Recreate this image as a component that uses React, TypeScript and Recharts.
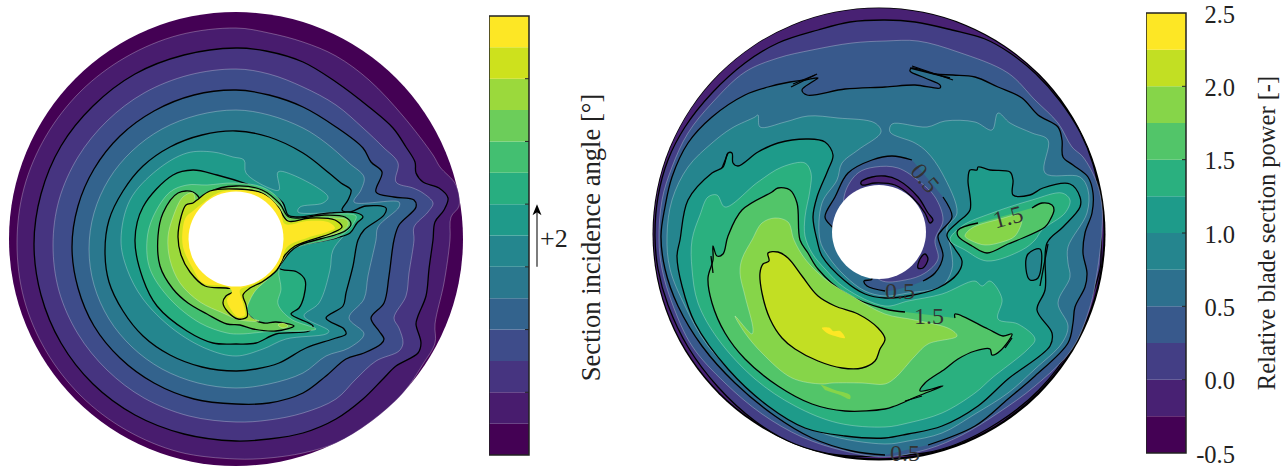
import React from 'react';
import { ScatterChart, Scatter, XAxis, YAxis, BarChart, Bar, Label, Curve } from 'recharts';

type P = [number, number];

const BANDS_LEFT = ['#440154', '#481c6e', '#463480', '#3e4c8a', '#33638d', '#2a788e', '#24868e', '#1f9a8a', '#28ae80', '#43bf71', '#6ccd5a', '#9bd93c', '#cde11d', '#fde725'];
const BANDS_RIGHT = ['#440154', '#482173', '#433e85', '#38598c', '#2d708e', '#25858e', '#1e9b8a', '#2ab07f', '#52c569', '#86d549', '#c2df23', '#fde725'];

const LEFT_TICKS = [2, 4, 6, 8, 10, 12];
const RIGHT_TICKS = [-0.5, 0, 0.5, 1, 1.5, 2, 2.5];
const LEFT_TITLE = 'Section incidence angle [°]';
const RIGHT_TITLE = 'Relative blade section power [-]';

// Left rotor: contour levels from the outside inwards
const L1: P[] = [[-219,-4],[-212,51],[-190,103],[-155,148],[-110,182],[-57,204],[0,211],[33,206],[67,197],[100,183],[133,159],[167,123],[197,84],[204,72],[220,54],[223,33],[215,22],[214,-1],[208,-44],[199,-85],[199,-104],[187,-125],[167,-154],[133,-184],[100,-204],[67,-214],[33,-219],[0,-220],[-57,-213],[-110,-191],[-155,-157],[-190,-112],[-212,-60],[-219,-4]];
const L2: P[] = [[-202,-5],[-195,45],[-175,93],[-143,133],[-101,165],[-52,184],[0,191],[30,188],[67,177],[100,157],[133,132],[157,111],[170,92],[179,77],[180,66],[187,57],[203,51],[212,41],[208,29],[199,17],[197,-1],[193,-30],[190,-57],[182,-77],[180,-85],[185,-104],[182,-114],[160,-127],[147,-140],[127,-160],[100,-180],[67,-194],[33,-200],[0,-202],[-52,-195],[-101,-176],[-143,-145],[-175,-104],[-195,-56],[-202,-5]];
const L3: P[] = [[-183,-6],[-177,39],[-158,82],[-129,118],[-92,146],[-47,164],[0,170],[33,165],[67,152],[100,134],[127,111],[147,92],[162,76],[160,57],[177,51],[187,46],[197,36],[192,27],[178,12],[178,-1],[173,-34],[170,-57],[158,-79],[163,-89],[167,-104],[163,-112],[140,-122],[120,-140],[100,-160],[67,-174],[33,-181],[0,-183],[-47,-177],[-92,-159],[-129,-131],[-158,-95],[-177,-52],[-183,-6]];
const L4: P[] = [[-164,-8],[-158,33],[-142,70],[-116,103],[-82,128],[-42,144],[0,149],[33,144],[67,132],[100,112],[127,91],[135,77],[146,67],[140,47],[158,42],[178,39],[180,32],[163,14],[158,-1],[153,-37],[148,-64],[135,-79],[143,-92],[148,-100],[145,-105],[128,-114],[110,-120],[90,-137],[67,-154],[33,-164],[0,-165],[-42,-160],[-82,-144],[-116,-119],[-142,-87],[-158,-49],[-164,-8]];
const L5: P[] = [[-147,-10],[-142,26],[-127,60],[-104,88],[-74,110],[-38,124],[0,129],[33,124],[67,111],[90,96],[113,76],[128,62],[125,49],[118,37],[163,37],[163,32],[142,12],[140,-1],[132,-37],[128,-60],[113,-79],[128,-95],[113,-109],[90,-117],[67,-134],[33,-145],[0,-149],[-38,-144],[-74,-130],[-104,-108],[-127,-80],[-142,-46],[-147,-10]];
const L6: P[] = [[-131,-12],[-127,19],[-113,48],[-93,73],[-66,92],[-34,104],[0,108],[33,102],[67,86],[93,66],[105,56],[115,49],[112,39],[106,29],[113,27],[130,33],[150,31],[148,24],[128,9],[122,-1],[117,-27],[110,-54],[107,-67],[90,-79],[108,-90],[110,-95],[97,-100],[70,-109],[43,-124],[20,-130],[0,-132],[-34,-128],[-66,-116],[-93,-97],[-113,-72],[-127,-43],[-131,-12]];
const L7: P[] = [[-115,-1],[-106,39],[-79,69],[-49,86],[-23,87],[-3,82],[8,79],[10,66],[33,51],[43,49],[42,67],[57,64],[92,42],[87,36],[64,32],[62,27],[117,24],[116,14],[97,-11],[94,-31],[83,-64],[68,-77],[93,-92],[90,-95],[50,-100],[27,-110],[0,-117],[-29,-110],[-63,-90],[-93,-60],[-109,-30],[-115,-1]];
const L8: P[] = [[-101,-1],[-93,32],[-63,64],[-43,69],[-19,64],[14,54],[34,46],[47,36],[52,24],[61,22],[94,26],[121,26],[127,22],[121,16],[114,6],[100,1],[57,-8],[51,-11],[43,-29],[61,-33],[69,-41],[68,-57],[63,-69],[55,-75],[77,-87],[73,-92],[40,-95],[20,-104],[0,-105],[-23,-104],[-49,-92],[-79,-67],[-93,-40],[-101,-1]];
const L9: P[] = [[-89,-1],[-83,22],[-66,47],[-49,54],[-29,54],[-3,56],[26,52],[44,39],[52,22],[94,25],[120,23],[117,15],[104,3],[59,-9],[51,-16],[43,-31],[45,-50],[42,-65],[55,-80],[80,-90],[64,-92],[39,-92],[4,-95],[-9,-94],[-36,-84],[-66,-60],[-86,-30],[-89,-1]];
const L10: P[] = [[-78,3],[-73,26],[-58,46],[-43,47],[-36,39],[-39,32],[-26,47],[0,53],[26,49],[44,35],[53,22],[89,24],[109,22],[115,15],[109,8],[64,-6],[54,-13],[44,-26],[33,-37],[15,-54],[12,-60],[8,-67],[17,-80],[28,-84],[40,-83],[58,-87],[40,-92],[17,-90],[4,-86],[-9,-85],[-29,-75],[-48,-64],[-63,-50],[-76,-27],[-78,3]];
const L11: P[] = [[-68,2],[-63,22],[-53,42],[-43,46],[-39,33],[-26,45],[0,51],[26,47],[43,33],[52,19],[94,21],[111,19],[112,14],[104,7],[64,-4],[54,-11],[44,-26],[34,-38],[20,-51],[14,-61],[11,-71],[16,-79],[23,-82],[4,-81],[-13,-74],[-36,-63],[-56,-44],[-66,-21],[-68,2]];
const L12: P[] = [[-58,2],[-55,22],[-50,34],[-43,36],[-39,39],[-26,48],[0,50],[26,46],[42,32],[52,18],[74,21],[99,19],[106,12],[96,6],[59,-7],[49,-16],[41,-31],[26,-43],[14,-49],[7,-56],[10,-66],[11,-78],[2,-80],[-8,-73],[-13,-64],[-10,-57],[2,-51],[-10,-49],[-31,-47],[-46,-33],[-55,-16],[-58,2]];
const L13: P[] = [[-53,12],[-50,22],[-43,28],[-33,36],[-18,46],[0,49],[29,44],[44,29],[49,15],[71,18],[92,17],[99,11],[91,7],[71,1],[51,-8],[45,-23],[34,-36],[16,-46],[4,-51],[7,-64],[9,-76],[2,-78],[-6,-69],[-9,-61],[-4,-53],[-8,-48],[-33,-44],[-44,-28],[-53,-8],[-53,12]];
const LSPOT: P[] = [[42,-86],[47,-84],[52,-87],[47,-89],[42,-86]];

// Right rotor: contour levels
const R0: P[] = [[6,214],[36,212],[73,204],[106,195],[131,181],[157,160],[181,133],[201,102],[214,70],[220,40],[222,10],[222,-20],[221,-35],[192,-113],[160,-156],[120,-188],[78,-210],[46,-219],[6,-222],[-41,-221],[-84,-210],[-124,-187],[-161,-153],[-191,-113],[-211,-71],[-221,-35],[-224,-2],[-221,37],[-211,74],[-194,107],[-167,141],[-134,171],[-101,191],[-61,204],[-29,212],[6,214]];
const R1: P[] = [[-220,-6],[-217,34],[-207,67],[-191,101],[-167,131],[-134,162],[-101,176],[-67,184],[-27,191],[6,193],[39,193],[79,182],[129,161],[156,134],[179,111],[193,87],[204,77],[218,51],[223,27],[223,4],[218,-39],[211,-73],[193,-115],[156,-152],[119,-179],[83,-201],[49,-215],[6,-223],[-34,-217],[-77,-203],[-117,-180],[-154,-149],[-187,-112],[-207,-69],[-217,-35],[-220,-6]];
const R2: P[] = [[6,-221],[-27,-217],[-67,-204],[-104,-182],[-144,-149],[-177,-112],[-201,-72],[-214,-35],[-218,-2],[-214,27],[-207,57],[-191,91],[-167,117],[-134,139],[-111,147],[-89,152],[-74,154],[-61,156],[-67,152],[-77,144],[-72,139],[-34,145],[6,147],[36,149],[61,146],[61,149],[46,156],[31,163],[33,166],[56,160],[74,159],[96,157],[119,147],[143,136],[159,119],[179,107],[183,94],[184,77],[194,69],[209,57],[214,41],[213,21],[206,1],[204,-19],[208,-39],[206,-53],[196,-73],[194,-89],[189,-109],[156,-142],[129,-165],[96,-192],[49,-211]];
const R3: P[] = [[-212,-2],[-207,34],[-191,67],[-167,91],[-147,106],[-124,117],[-121,119],[-119,107],[-94,112],[-71,118],[-41,116],[-4,111],[2,102],[-21,84],[-37,71],[-42,54],[-57,31],[-59,-6],[-51,-22],[-34,-42],[-14,-57],[6,-62],[29,-59],[63,-52],[73,-35],[73,-22],[69,-2],[68,7],[78,21],[63,61],[48,82],[36,91],[11,102],[13,110],[48,107],[66,113],[96,112],[113,104],[119,121],[131,111],[153,101],[169,94],[166,61],[201,57],[209,44],[208,21],[189,-13],[189,-29],[191,-43],[179,-69],[189,-92],[183,-109],[156,-135],[129,-159],[96,-180],[63,-199],[29,-207],[6,-210],[-54,-200],[-94,-179],[-134,-149],[-171,-112],[-194,-72],[-209,-35],[-212,-2]];
const R4: P[] = [[-199,-6],[-191,34],[-167,61],[-156,67],[-151,81],[-147,81],[-146,71],[-141,68],[-121,82],[-101,91],[-71,95],[-54,92],[-46,79],[-51,64],[-62,37],[-66,17],[-62,-6],[-57,-22],[-34,-47],[-14,-60],[6,-64],[29,-62],[59,-54],[79,-39],[83,-27],[76,-15],[68,-2],[69,2],[79,12],[91,24],[89,54],[91,64],[98,64],[99,67],[111,64],[131,62],[134,54],[134,39],[151,39],[164,46],[191,50],[201,37],[201,27],[184,7],[168,-9],[166,-56],[158,-76],[173,-99],[171,-112],[129,-145],[99,-172],[63,-192],[29,-200],[6,-204],[-34,-202],[-74,-194],[-111,-172],[-151,-135],[-184,-89],[-197,-52],[-202,-22],[-199,-6]];
const R5: P[] = [[-187,-6],[-179,19],[-171,37],[-162,39],[-154,27],[-121,52],[-97,67],[-74,71],[-68,61],[-69,44],[-74,17],[-74,-2],[-67,-19],[-54,-35],[-34,-54],[6,-72],[29,-67],[63,-60],[96,-47],[103,-52],[111,-47],[123,-65],[119,-85],[139,-90],[156,-105],[149,-115],[113,-144],[96,-159],[63,-179],[29,-189],[6,-193],[-41,-189],[-84,-172],[-124,-145],[-161,-105],[-181,-69],[-187,-35],[-187,-6]];
const R5B: P[] = [[71,-6],[83,8],[113,21],[153,34],[183,41],[191,34],[186,21],[163,4],[156,-6],[143,-16],[108,-27],[86,-16],[71,-6]];
const R6: P[] = [[76,-84],[76,-80],[109,-95],[124,-102],[133,-100],[121,-117],[113,-121],[111,-115],[96,-117],[79,-125],[66,-135],[46,-149],[41,-157],[64,-152],[39,-162],[16,-172],[6,-175],[-34,-177],[-67,-170],[-101,-152],[-134,-125],[-154,-99],[-167,-69],[-171,-44],[-166,-26],[-166,-12],[-162,-22],[-156,-20],[-151,-2],[-137,24],[-107,42],[-101,46],[-89,44],[-82,31],[-79,-6],[-71,-19],[-61,-35],[-34,-59],[6,-75],[26,-78]];
const R6B: P[] = [[153,26],[163,31],[173,29],[175,24],[171,14],[166,7],[139,-6],[129,-10],[108,-19],[93,-12],[79,-2],[79,4],[99,11]];
const R7: P[] = [[-127,-6],[-117,11],[-104,16],[-91,12],[-85,-6],[-74,-25],[-54,-45],[-27,-62],[6,-80],[36,-86],[71,-95],[78,-102],[49,-110],[36,-122],[16,-144],[6,-150],[-17,-149],[-47,-149],[-57,-150],[-87,-144],[-117,-119],[-134,-99],[-144,-82],[-127,-100],[-126,-95],[-134,-62],[-139,-39],[-137,-25],[-127,-6]];
const R7B: P[] = [[86,-2],[93,6],[121,15],[141,19],[143,14],[136,-2],[123,-8],[106,-11],[93,-7],[86,-2]];
const R7C: P[] = [[-59,-150],[-44,-156],[-29,-161],[-29,-165],[-39,-161],[-54,-156]];
const R8: P[] = [[-111,-19],[-101,-18],[-91,-24],[-77,-42],[-61,-62],[-44,-72],[-21,-80],[-1,-94],[6,-105],[1,-115],[-4,-127],[-17,-134],[-37,-134],[-61,-127],[-84,-115],[-97,-104],[-109,-85],[-117,-59],[-119,-39],[-116,-30],[-110,-27],[-111,-19]];
const R9: P[] = [[-57,-94],[-49,-94],[-46,-97],[-39,-97],[-34,-104],[-44,-102],[-52,-99],[-57,-94]];
const LOW_A: P[] = [[64,37],[73,17],[63,4],[59,-2],[64,-22],[56,-39],[44,-47]];
const LOW_B: P[] = [[6,-57],[-12,-52],[-15,-47],[-7,-45],[-29,-16],[-46,6],[-54,17],[-44,37],[-31,61],[-7,74],[13,78],[33,74]];
const LOW_Q: P[] = [[-34,41],[-21,61],[-4,67],[19,66],[41,52],[56,37],[64,14],[56,-6],[59,-25],[46,-39],[26,-46],[1,-46],[-19,-16],[-34,14],[-34,41]];
const LOW_Z1: P[] = [[-18,52],[-7,57],[6,58],[19,54],[39,37],[49,21],[54,14],[51,11],[46,21],[33,37],[16,49],[-4,51],[-17,49],[-18,52]];
const LOW_Z2: P[] = [[46,-20],[49,-25],[44,-34],[39,-34],[41,-25],[46,-20]];
const LOBE: P[] = [[149,-20],[161,-15],[159,-44],[151,-46],[147,-35],[149,-20]];
const SPIKES: P[][] = [
  [[-88,147],[-62,160]], [[-86,150],[-64,159]], [[33,168],[74,154]], [[31,166],[71,156]],
  [[-157,66],[-151,81]], [[26,-167],[43,-162]], [[169,-10],[161,-52]], [[126,-114],[133,-104]], [[-168,-22],[-166,-39]],
];
const RIGHT_LABELS = [
  { x: 46, y: 56, text: '0.5', angle: 50 },
  { x: 21, y: -57, text: '0.5', angle: 0 },
  { x: 26, y: -219, text: '0.5', angle: 0 },
  { x: 50, y: -82, text: '1.5', angle: 0 },
  { x: 129, y: 17, text: '1.5', angle: -15 },
];

type Kind = 'black' | 'faint' | 'none';
type Contour = { pts: P[]; fill: string; kind: Kind };

const LEFT_CONTOURS: Contour[] = [
  { pts: L1, fill: BANDS_LEFT[1], kind: 'faint' },
  { pts: L2, fill: BANDS_LEFT[2], kind: 'black' },
  { pts: L3, fill: BANDS_LEFT[3], kind: 'faint' },
  { pts: L4, fill: BANDS_LEFT[4], kind: 'black' },
  { pts: L5, fill: BANDS_LEFT[5], kind: 'faint' },
  { pts: L6, fill: BANDS_LEFT[6], kind: 'black' },
  { pts: L7, fill: BANDS_LEFT[7], kind: 'faint' },
  { pts: L8, fill: BANDS_LEFT[8], kind: 'black' },
  { pts: L9, fill: BANDS_LEFT[9], kind: 'faint' },
  { pts: L10, fill: BANDS_LEFT[10], kind: 'black' },
  { pts: L11, fill: BANDS_LEFT[11], kind: 'faint' },
  { pts: LSPOT, fill: BANDS_LEFT[11], kind: 'faint' },
  { pts: L12, fill: BANDS_LEFT[12], kind: 'black' },
  { pts: L13, fill: BANDS_LEFT[13], kind: 'none' },
];

const RIGHT_CONTOURS: Contour[] = [
  { pts: R0, fill: BANDS_RIGHT[2], kind: 'black' },
  { pts: R1, fill: BANDS_RIGHT[3], kind: 'faint' },
  { pts: R2, fill: BANDS_RIGHT[4], kind: 'black' },
  { pts: R3, fill: BANDS_RIGHT[5], kind: 'faint' },
  { pts: R4, fill: BANDS_RIGHT[6], kind: 'black' },
  { pts: LOBE, fill: BANDS_RIGHT[5], kind: 'black' },
  { pts: R5, fill: BANDS_RIGHT[7], kind: 'faint' },
  { pts: R5B, fill: BANDS_RIGHT[7], kind: 'faint' },
  { pts: R6, fill: BANDS_RIGHT[8], kind: 'black' },
  { pts: R6B, fill: BANDS_RIGHT[8], kind: 'black' },
  { pts: R7, fill: BANDS_RIGHT[9], kind: 'faint' },
  { pts: R7B, fill: BANDS_RIGHT[9], kind: 'faint' },
  { pts: R7C, fill: BANDS_RIGHT[9], kind: 'none' },
  { pts: R8, fill: BANDS_RIGHT[10], kind: 'black' },
  { pts: R9, fill: BANDS_RIGHT[11], kind: 'none' },
  { pts: [...LOW_A, ...LOW_B], fill: BANDS_RIGHT[3], kind: 'none' },
  { pts: LOW_Q, fill: BANDS_RIGHT[2], kind: 'faint' },
  { pts: LOW_Z1, fill: BANDS_RIGHT[1], kind: 'black' },
  { pts: LOW_Z2, fill: BANDS_RIGHT[1], kind: 'black' },
];

const FONT = "'Liberation Serif', serif";
const NoMark = () => null;
const toXY = (pts: P[]) => pts.map(([x, y]) => ({ x, y }));
const strokeOf = (kind: Kind) =>
  kind === 'black'
    ? { stroke: '#000', strokeWidth: 1.3 }
    : kind === 'faint'
    ? { stroke: 'rgba(255,255,255,0.4)', strokeWidth: 0.7 }
    : { stroke: 'none', strokeWidth: 0 };

// Centripetal Catmull-Rom curve, as a curve factory for Recharts' Curve
const contourCurve = (ctx: any) => {
  let pts: [number, number][] = [];
  return {
    areaStart() {},
    areaEnd() {},
    lineStart() {
      pts = [];
    },
    point(x: number, y: number) {
      pts.push([+x, +y]);
    },
    lineEnd() {
      const n = pts.length;
      if (!n) return;
      ctx.moveTo(pts[0][0], pts[0][1]);
      const closed = n > 3 && Math.hypot(pts[0][0] - pts[n - 1][0], pts[0][1] - pts[n - 1][1]) < 0.01;
      for (let i = 0; i < n - 1; i++) {
        const p1 = pts[i];
        const p2 = pts[i + 1];
        const p0 = i > 0 ? pts[i - 1] : closed ? pts[n - 2] : p1;
        const p3 = i < n - 2 ? pts[i + 2] : closed ? pts[1] : p2;
        const d01 = Math.hypot(p1[0] - p0[0], p1[1] - p0[1]);
        const d12 = Math.hypot(p2[0] - p1[0], p2[1] - p1[1]);
        const d23 = Math.hypot(p3[0] - p2[0], p3[1] - p2[1]);
        const a01 = Math.sqrt(d01);
        const a12 = Math.sqrt(d12);
        const a23 = Math.sqrt(d23);
        let c1x = p1[0];
        let c1y = p1[1];
        let c2x = p2[0];
        let c2y = p2[1];
        if (a01 > 1e-6) {
          const a = 2 * d01 + 3 * a01 * a12 + d12;
          const m = 3 * a01 * (a01 + a12);
          c1x = (p1[0] * a - p0[0] * d12 + p2[0] * d01) / m;
          c1y = (p1[1] * a - p0[1] * d12 + p2[1] * d01) / m;
        }
        if (a23 > 1e-6) {
          const b = 2 * d23 + 3 * a23 * a12 + d12;
          const m = 3 * a23 * (a23 + a12);
          c2x = (p2[0] * b + p1[0] * d23 - p3[0] * d12) / m;
          c2y = (p2[1] * b + p1[1] * d23 - p3[1] * d12) / m;
        }
        ctx.bezierCurveTo(c1x, c1y, c2x, c2y, p2[0], p2[1]);
      }
    },
  };
};

const smoothLine = (fill: string, stroke: any) => (p: any) => (
  <Curve key="curve" points={p.points} type={contourCurve as any} fill={fill} stroke={stroke.stroke} strokeWidth={stroke.strokeWidth} strokeLinejoin="round" />
);

const contourSeries = (c: Contour, i: number) => (
  <Scatter
    key={i}
    data={toXY(c.pts)}
    shape={NoMark}
    line={smoothLine(c.fill, strokeOf(c.kind))}
    lineType="joint"
    isAnimationActive={false}
    legendType="none"
  />
);

const lineSeries = (pts: P[], i: number) => (
  <Scatter
    key={'l' + i}
    data={toXY(pts)}
    shape={NoMark}
    line={smoothLine('none', { stroke: '#000', strokeWidth: 1.3 })}
    lineType="joint"
    isAnimationActive={false}
    legendType="none"
  />
);

const discSeries = (key: string, x: number, y: number, r: number, fill: string) => (
  <Scatter
    key={key}
    data={[{ x, y }]}
    shape={(p: any) => <circle cx={p.cx} cy={p.cy} r={r} fill={fill} />}
    isAnimationActive={false}
    legendType="none"
  />
);

function Rotor({ left, width, xDomain, yDomain, children }: any) {
  return (
    <div style={{ position: 'absolute', left, top: 0 }}>
      <ScatterChart width={width} height={467} margin={{ top: 0, right: 0, bottom: 0, left: 0 }}>
        <XAxis type="number" dataKey="x" domain={xDomain} hide allowDataOverflow />
        <YAxis type="number" dataKey="y" domain={yDomain} hide allowDataOverflow />
        {children}
      </ScatterChart>
    </div>
  );
}

const bandRow = (bands: string[], unit: number, negatives: number) => {
  const row: Record<string, any> = { name: 'bar' };
  bands.forEach((_, i) => {
    row['b' + i] = i < negatives ? -unit : unit;
  });
  return [row];
};

function TitleText({ viewBox, text, dx, dy, size }: any) {
  const x = viewBox.x + dx;
  const y = viewBox.y + viewBox.height / 2 + dy;
  return (
    <text x={x} y={y} transform={`rotate(-90 ${x} ${y})`} textAnchor="middle" dominantBaseline="central" fontFamily={FONT} fontSize={size} fill="#222">
      {text}
    </text>
  );
}

function Colorbar({ left, top, height, width, axisWidth, bands, unit, negatives, domain, ticks, tick, title, titleDx, titleDy, titleSize, stackOrder }: any) {
  const margin = { top, bottom: 467 - top - height, left: 0 };
  return (
    <>
      <div style={{ position: 'absolute', left, top: 0 }}>
        <BarChart width={width} height={467} data={bandRow(bands, unit, negatives)} margin={{ ...margin, right: axisWidth }} barCategoryGap={0} stackOffset="sign">
          <XAxis dataKey="name" hide />
          <YAxis type="number" domain={domain} hide allowDataOverflow />
          {stackOrder.map((i: number) => (
            <Bar key={i} dataKey={'b' + i} stackId="c" fill={bands[i]} stroke="none" isAnimationActive={false} legendType="none" />
          ))}
        </BarChart>
      </div>
      <div style={{ position: 'absolute', left, top: 0 }}>
        <BarChart width={width} height={467} data={[{ name: 'bar', span: domain }]} margin={{ ...margin, right: 0 }} barCategoryGap={0}>
          <XAxis dataKey="name" hide />
          <YAxis
            orientation="right"
            type="number"
            width={axisWidth}
            domain={domain}
            ticks={ticks}
            interval={0}
            axisLine={false}
            tickLine={false}
            tickSize={0}
            tickMargin={0}
            tick={tick}
          >
            <Label content={(p: any) => <TitleText viewBox={p.viewBox} text={title} dx={titleDx} dy={titleDy} size={titleSize} />} />
          </YAxis>
          <Bar dataKey="span" fill="none" stroke="#222" strokeWidth={1.5} isAnimationActive={false} legendType="none" />
        </BarChart>
      </div>
    </>
  );
}

const leftTick = (p: any) => {
  const { x, y, payload } = p;
  const step = 31.36 * 2;
  return (
    <g>
      <line x1={x - 4} x2={x} y1={y} y2={y} stroke="#222" strokeWidth={1} />
      {payload.value === 6 && (
        <g>
          <line x1={x + 8} x2={x + 8} y1={y} y2={y - step + 6} stroke="#111" strokeWidth={1.1} />
          <polygon points={`${x + 8},${y - step} ${x + 3.5},${y - step + 11} ${x + 8},${y - step + 8} ${x + 12.5},${y - step + 11}`} fill="#000" />
          <text x={x + 11} y={y - 20} fontFamily={FONT} fontSize={26} fill="#222">+2</text>
        </g>
      )}
    </g>
  );
};

const rightTick = (p: any) => {
  const { x, y, payload } = p;
  const v = payload.value as number;
  const inner = v > -0.5 && v < 2.5;
  return (
    <g>
      {inner && <line x1={x - 4} x2={x} y1={y} y2={y} stroke="#222" strokeWidth={1} />}
      <text x={x + 49} y={y + 1} textAnchor="end" dominantBaseline="central" fontFamily={FONT} fontSize={24.5} fill="#222">
        {v.toFixed(1)}
      </text>
    </g>
  );
};

export default function App() {
  return (
    <div style={{ position: 'absolute', left: 0, top: 0, width: 1287, height: 467, overflow: 'hidden', background: '#fff' }}>
      <Rotor left={0} width={472} xDomain={[-236, 236]} yDomain={[-228, 239]}>
        {discSeries('disc', 0, 0, 227, BANDS_LEFT[0])}
        {LEFT_CONTOURS.map(contourSeries)}
        {discSeries('hole', 0, 0, 47.5, '#fff')}
      </Rotor>

      <Rotor left={640} width={480} xDomain={[-239, 241]} yDomain={[-233, 234]}>
        {discSeries('rim', 0, 0, 226.5, '#000')}
        {discSeries('disc', -0.5, 0.7, 225, BANDS_RIGHT[1])}
        {RIGHT_CONTOURS.map(contourSeries)}
        {lineSeries(LOW_A, 100)}
        {lineSeries(LOW_B, 101)}
        {SPIKES.map((s, i) => lineSeries(s, i))}
        {discSeries('hole', 0, 2, 47, '#fff')}
        <Scatter
          data={RIGHT_LABELS}
          isAnimationActive={false}
          legendType="none"
          shape={(p: any) => (
            <text
              x={p.cx}
              y={p.cy}
              transform={`rotate(${p.payload.angle} ${p.cx} ${p.cy})`}
              textAnchor="middle"
              dominantBaseline="central"
              fontFamily={FONT}
              fontSize={24}
              fill="#333"
            >
              {p.payload.text}
            </text>
          )}
        />
      </Rotor>

      <Colorbar
        left={489}
        top={16}
        height={439}
        width={130}
        axisWidth={90}
        bands={BANDS_LEFT}
        unit={1}
        negatives={0}
        domain={[0, 14]}
        ticks={LEFT_TICKS}
        tick={leftTick}
        title={LEFT_TITLE}
        titleDx={62}
        titleDy={2}
        titleSize={26.6}
        stackOrder={BANDS_LEFT.map((_, i) => i)}
      />
      <Colorbar
        left={1146}
        top={13}
        height={440}
        width={141}
        axisWidth={101}
        bands={BANDS_RIGHT}
        unit={0.25}
        negatives={2}
        domain={[-0.5, 2.5]}
        ticks={RIGHT_TICKS}
        tick={rightTick}
        title={RIGHT_TITLE}
        titleDx={80}
        titleDy={0}
        titleSize={24.5}
        stackOrder={[1, 0, ...BANDS_RIGHT.map((_, i) => i).slice(2)]}
      />
    </div>
  );
}
